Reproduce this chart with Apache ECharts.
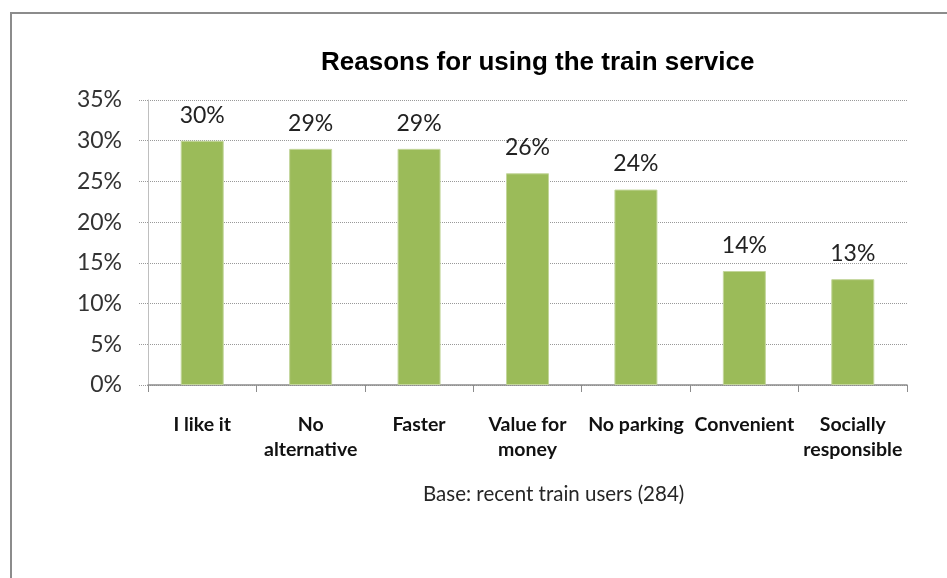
<!DOCTYPE html>
<html>
<head>
<meta charset="utf-8">
<script src="https://cdn.jsdelivr.net/npm/echarts@6/dist/echarts.min.js"></script>
<style>html,body{margin:0;padding:0;background:#fff}#c{width:947px;height:578px}</style>
</head>
<body>
<div id="c"></div>
<script>
const categories = ["I like it", "No\nalternative", "Faster", "Value for\nmoney", "No parking", "Convenient", "Socially\nresponsible"];
const values = [30, 29, 29, 26, 24, 14, 13];
const yTicks = { min: 0, max: 35, interval: 5 };
const titleText = "Reasons for using the train service";
const baseText = "Base: recent train users (284)";

const FONT = "Lato";
const chart = echarts.init(document.getElementById('c'), null, { renderer: 'canvas' });
chart.setOption({
  backgroundColor: '#fff',
  animation: false,
  graphic: [
    { type: 'rect', shape: { x: 11, y: 13, width: 1200, height: 1200 }, style: { fill: 'none', stroke: '#8c8c8c', lineWidth: 2 }, silent: true },
    { type: 'text', left: 321, top: 50, style: { text: titleText, font: 'bold 26px "Liberation Sans"', fill: '#000' } },
    { type: 'text', left: 423, top: 484, style: { text: baseText, font: '20.5px ' + FONT, fill: '#262626' } }
  ],
  grid: { left: 148, right: 40, top: 100, bottom: 193, containLabel: false },
  xAxis: {
    type: 'category',
    data: categories,
    axisLine: { lineStyle: { color: '#8c8c8c', width: 1.5 } },
    axisTick: { show: true, length: 7, lineStyle: { color: '#8c8c8c' } },
    axisLabel: { margin: 27, color: '#111', fontFamily: FONT, fontWeight: 'bold', fontSize: 19.5, lineHeight: 25, interval: 0 }
  },
  yAxis: {
    type: 'value',
    min: yTicks.min, max: yTicks.max, interval: yTicks.interval,
    axisLine: { show: true, lineStyle: { color: '#bfbfbf', width: 1 } },
    axisTick: { show: true, length: 10, lineStyle: { color: '#999', type: 'dotted' } },
    axisLabel: { margin: 26, color: '#333', fontFamily: FONT, fontSize: 23, formatter: v => v + '%' },
    splitLine: { show: true, lineStyle: { color: '#999', type: 'dotted', width: 1 } }
  },
  series: [{
    type: 'bar',
    data: values,
    barWidth: 43,
    itemStyle: { color: '#9BBB59', borderColor: '#c3d69b', borderWidth: 1 },
    label: { show: true, position: 'top', distance: 14, color: '#222', fontFamily: FONT, fontSize: 23, formatter: p => p.value + '%' }
  }]
});
</script>
</body>
</html>
